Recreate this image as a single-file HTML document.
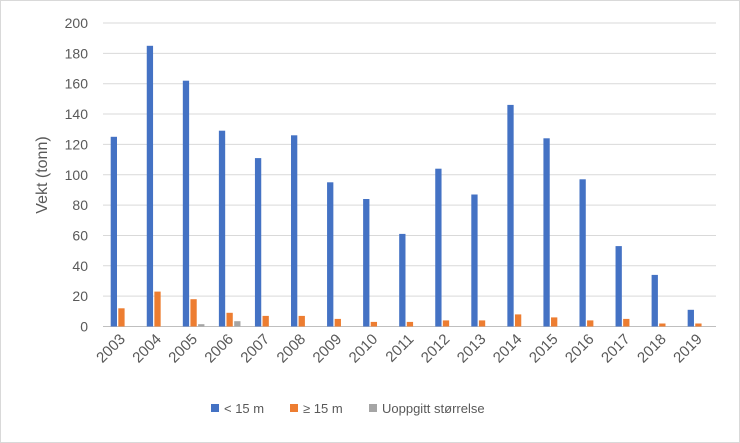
<!DOCTYPE html><html><head><style>body{margin:0;background:#fff}svg{display:block}text{font-family:"Liberation Sans",sans-serif;fill:#595959}</style></head><body>
<svg width="740" height="443" xmlns="http://www.w3.org/2000/svg">
<rect x="0.5" y="0.5" width="739" height="442" fill="#fff" stroke="#d9d9d9"/>
<g stroke="#d9d9d9">
<line x1="103" x2="716" y1="296.15" y2="296.15"/><line x1="103" x2="716" y1="265.8" y2="265.8"/><line x1="103" x2="716" y1="235.45" y2="235.45"/><line x1="103" x2="716" y1="205.1" y2="205.1"/><line x1="103" x2="716" y1="174.75" y2="174.75"/><line x1="103" x2="716" y1="144.4" y2="144.4"/><line x1="103" x2="716" y1="114.05" y2="114.05"/><line x1="103" x2="716" y1="83.7" y2="83.7"/><line x1="103" x2="716" y1="53.35" y2="53.35"/><line x1="103" x2="716" y1="23" y2="23"/>
</g>
<line x1="103" x2="716" y1="326.5" y2="326.5" stroke="#bfbfbf"/>
<g font-size="14" text-anchor="end">
<text x="88" y="331.5">0</text><text x="88" y="301.2">20</text><text x="88" y="270.8">40</text><text x="88" y="240.5">60</text><text x="88" y="210.1">80</text><text x="88" y="179.8">100</text><text x="88" y="149.4">120</text><text x="88" y="119">140</text><text x="88" y="88.7">160</text><text x="88" y="58.4">180</text><text x="88" y="28">200</text>
</g>
<g fill="#4472c4">
<rect x="110.7" y="136.8" width="6.3" height="189.7"/><rect x="146.76" y="45.8" width="6.3" height="280.7"/><rect x="182.82" y="80.7" width="6.3" height="245.8"/><rect x="218.88" y="130.7" width="6.3" height="195.8"/><rect x="254.94" y="158.1" width="6.3" height="168.4"/><rect x="291" y="135.3" width="6.3" height="191.2"/><rect x="327.06" y="182.3" width="6.3" height="144.2"/><rect x="363.12" y="199" width="6.3" height="127.5"/><rect x="399.18" y="233.9" width="6.3" height="92.6"/><rect x="435.24" y="168.7" width="6.3" height="157.8"/><rect x="471.3" y="194.5" width="6.3" height="132"/><rect x="507.36" y="104.9" width="6.3" height="221.6"/><rect x="543.42" y="138.3" width="6.3" height="188.2"/><rect x="579.48" y="179.3" width="6.3" height="147.2"/><rect x="615.54" y="246.1" width="6.3" height="80.4"/><rect x="651.6" y="274.9" width="6.3" height="51.6"/><rect x="687.66" y="309.8" width="6.3" height="16.7"/>
</g>
<g fill="#ed7d31">
<rect x="118.3" y="308.3" width="6.3" height="18.2"/><rect x="154.36" y="291.6" width="6.3" height="34.9"/><rect x="190.42" y="299.2" width="6.3" height="27.3"/><rect x="226.48" y="312.8" width="6.3" height="13.7"/><rect x="262.54" y="315.9" width="6.3" height="10.6"/><rect x="298.6" y="315.9" width="6.3" height="10.6"/><rect x="334.66" y="318.9" width="6.3" height="7.6"/><rect x="370.72" y="321.9" width="6.3" height="4.6"/><rect x="406.78" y="321.9" width="6.3" height="4.6"/><rect x="442.84" y="320.4" width="6.3" height="6.1"/><rect x="478.9" y="320.4" width="6.3" height="6.1"/><rect x="514.96" y="314.4" width="6.3" height="12.1"/><rect x="551.02" y="317.4" width="6.3" height="9.1"/><rect x="587.08" y="320.4" width="6.3" height="6.1"/><rect x="623.14" y="318.9" width="6.3" height="7.6"/><rect x="659.2" y="323.5" width="6.3" height="3"/><rect x="695.26" y="323.5" width="6.3" height="3"/>
</g>
<g fill="#a5a5a5"><rect x="198.12" y="324.2" width="6.3" height="2.3"/><rect x="234.18" y="321.2" width="6.3" height="5.3"/></g>
<g font-size="15" text-anchor="end">
<text transform="translate(126,340) rotate(-45)">2003</text><text transform="translate(162.06,340) rotate(-45)">2004</text><text transform="translate(198.12,340) rotate(-45)">2005</text><text transform="translate(234.18,340) rotate(-45)">2006</text><text transform="translate(270.24,340) rotate(-45)">2007</text><text transform="translate(306.3,340) rotate(-45)">2008</text><text transform="translate(342.36,340) rotate(-45)">2009</text><text transform="translate(378.42,340) rotate(-45)">2010</text><text transform="translate(414.48,340) rotate(-45)">2011</text><text transform="translate(450.54,340) rotate(-45)">2012</text><text transform="translate(486.6,340) rotate(-45)">2013</text><text transform="translate(522.66,340) rotate(-45)">2014</text><text transform="translate(558.72,340) rotate(-45)">2015</text><text transform="translate(594.78,340) rotate(-45)">2016</text><text transform="translate(630.84,340) rotate(-45)">2017</text><text transform="translate(666.9,340) rotate(-45)">2018</text><text transform="translate(702.96,340) rotate(-45)">2019</text>
</g>
<text transform="translate(47,175) rotate(-90)" text-anchor="middle" font-size="16">Vekt (tonn)</text>
<rect x="211" y="404" width="8" height="8" fill="#4472c4"/><text x="224" y="413" font-size="13">&lt; 15 m</text>
<rect x="290" y="404" width="8" height="8" fill="#ed7d31"/><text x="303" y="413" font-size="13">≥ 15 m</text>
<rect x="369" y="404" width="8" height="8" fill="#a5a5a5"/><text x="382" y="413" font-size="13">Uoppgitt størrelse</text>
</svg></body></html>
